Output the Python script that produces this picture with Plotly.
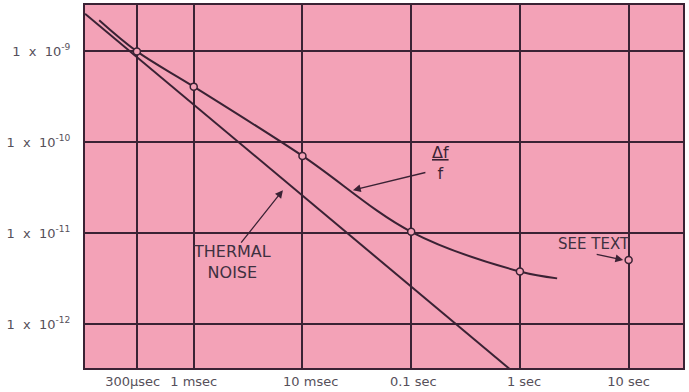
import plotly.graph_objects as go

# Averaging time (seconds) and fractional frequency stability
delta_tau = [1.35e-4, 3e-4, 1e-3, 1e-2, 0.1, 1.0, 2.2]
delta_val = [2.2e-9, 1.0e-9, 4.1e-10, 7.1e-11, 1.04e-11, 3.8e-12, 3.2e-12]
delta_marked = [False, True, True, True, True, True, False]

thermal_tau = [1e-4, 1.0]
thermal_val = [2.6e-9, 2.6e-13]

see_text_tau = [10.0]
see_text_val = [5.1e-12]

NB = "\u00a0"
x_ticks = [3e-4, 1e-3, 1e-2, 0.1, 1.0, 10.0]
x_labels = ["300\u00b5sec" + NB * 2, "1 msec", NB * 4 + "10 msec",
            NB + "0.1 sec", NB * 2 + "1 sec", "10 sec"]
y_ticks = [1e-9, 1e-10, 1e-11, 1e-12]
y_labels = ["1  x  10<sup>-9</sup>", "1  x  10<sup>-10</sup>",
            "1  x  10<sup>-11</sup>", "1  x  10<sup>-12</sup>"]

INK = "#3a2234"
PINK = "#F3A2B7"
LABEL = "#56505a"
FONT = "DejaVu Sans"

fig = go.Figure()

fig.add_trace(go.Scatter(
    x=thermal_tau, y=thermal_val, mode="lines",
    line=dict(color=INK, width=2), hoverinfo="skip", showlegend=False))

fig.add_trace(go.Scatter(
    x=delta_tau, y=delta_val, mode="lines",
    line=dict(color=INK, width=2, shape="spline", smoothing=1.0),
    hoverinfo="skip", showlegend=False))

mx = [t for t, m in zip(delta_tau, delta_marked) if m] + see_text_tau
my = [v for v, m in zip(delta_val, delta_marked) if m] + see_text_val
fig.add_trace(go.Scatter(
    x=mx, y=my, mode="markers",
    marker=dict(symbol="circle", size=7, color=PINK,
                line=dict(color=INK, width=1.5)),
    hoverinfo="skip", showlegend=False))

ann_color = "#3e3040"
fig.add_annotation(xref="paper", yref="paper", x=0.246, y=0.292,
                   xanchor="center", yanchor="middle",
                   text="THERMAL<br>NOISE", showarrow=False,
                   font=dict(family=FONT, size=16, color=ann_color))
fig.add_annotation(xref="paper", yref="paper", x=0.851, y=0.342,
                   xanchor="center", yanchor="middle",
                   text="SEE TEXT", showarrow=False,
                   font=dict(family=FONT, size=15, color=ann_color))
fig.add_annotation(xref="paper", yref="paper", x=0.595, y=0.566,
                   xanchor="center", yanchor="middle",
                   text="<u>\u0394f</u><br>f", showarrow=False,
                   font=dict(family=FONT, size=16, color=INK))

arrow = dict(xref="paper", yref="paper", text="", showarrow=True,
             arrowhead=2, arrowsize=1.2, arrowwidth=1.3, arrowcolor=INK)
fig.add_annotation(x=0.448, y=0.490, ax=74, ay=-18, **arrow)
fig.add_annotation(x=0.331, y=0.490, ax=-43, ay=54, **arrow)
fig.add_annotation(x=0.900, y=0.2975, ax=-28, ay=-6, **arrow)

fig.update_xaxes(
    type="log", range=[-4, 1.5],
    tickvals=x_ticks, ticktext=x_labels, tickangle=0,
    showgrid=True, gridcolor=INK, gridwidth=1.5,
    showline=True, linecolor=INK, linewidth=2, mirror=True,
    zeroline=False, ticks="", automargin=False,
    tickfont=dict(family=FONT, size=13, color=LABEL))
fig.update_yaxes(
    type="log", range=[-12.48, -8.49],
    tickvals=y_ticks, ticktext=y_labels,
    showgrid=True, gridcolor=INK, gridwidth=1.5,
    showline=True, linecolor=INK, linewidth=2, mirror=True,
    zeroline=False, ticks="", ticklabelstandoff=10, automargin=False,
    tickfont=dict(family=FONT, size=13, color=LABEL))

fig.update_layout(
    width=689, height=392,
    margin=dict(l=85, r=6, t=5, b=24),
    paper_bgcolor="white", plot_bgcolor=PINK,
    showlegend=False)

fig.write_html("out.html")
